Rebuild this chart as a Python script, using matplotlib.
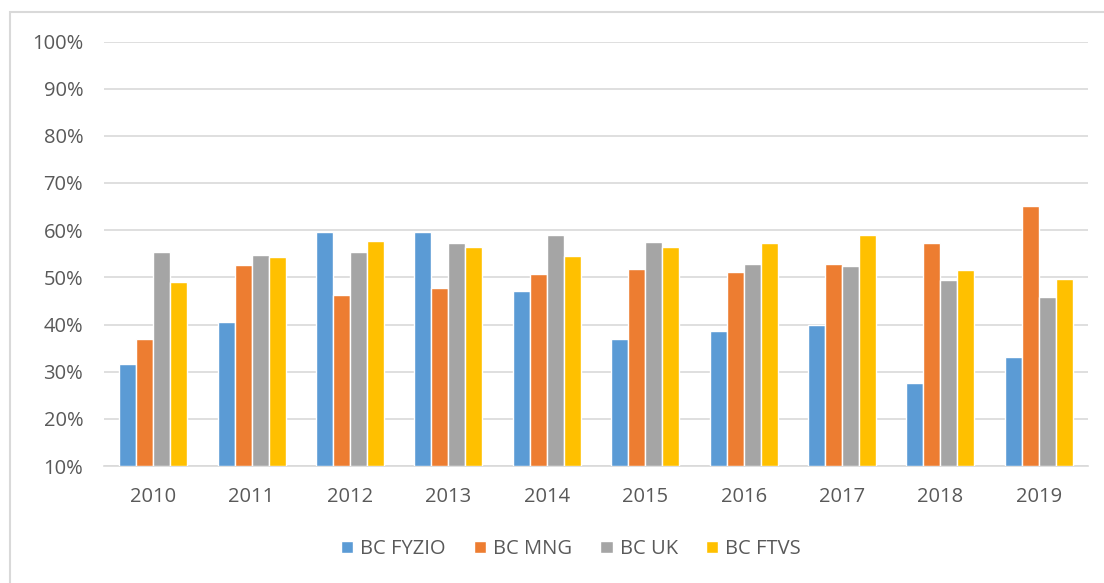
import matplotlib
matplotlib.use("Agg")
import matplotlib.pyplot as plt
import numpy as np
from matplotlib.patches import Rectangle

years = ["2010", "2011", "2012", "2013", "2014", "2015", "2016", "2017", "2018", "2019"]
series_names = ["BC FYZIO", "BC MNG", "BC UK", "BC FTVS"]
fyzio = [31.6, 40.6, 59.6, 59.6, 47.1, 37.0, 38.7, 40.0, 27.7, 33.1]
mng = [37.0, 52.6, 46.3, 47.7, 50.7, 51.8, 51.2, 52.9, 57.2, 65.1]
uk = [55.3, 54.8, 55.3, 57.2, 58.9, 57.5, 52.9, 52.3, 49.4, 45.8]
ftvs = [49.1, 54.3, 57.8, 56.4, 54.5, 56.4, 57.2, 58.9, 51.5, 49.6]
colors = ["#5B9BD5", "#ED7D31", "#A5A5A5", "#FFC000"]

plt.rcParams['font.family'] = ['Open Sans', 'DejaVu Sans']
fig = plt.figure(figsize=(11.04, 5.83), dpi=100)
W, H = 1104, 583
ax = fig.add_axes([104 / W, 1 - 466 / H, (1088 - 104) / W, (466 - 41.5) / H])

x = np.arange(len(years))
bw = 0.173
for i, (vals, c, name) in enumerate(zip([fyzio, mng, uk, ftvs], colors, series_names)):
    off = (i - 1.5) * bw
    ax.bar(x + off, np.array(vals) - 10, bottom=10, width=bw, color=c,
           edgecolor="white", linewidth=1.0, label=name, zorder=3)

ax.set_xlim(-0.5, len(years) - 0.5)
ax.set_ylim(10, 100)
ax.set_yticks(np.arange(10, 101, 10))
ax.set_yticklabels([f"{v}%" for v in range(10, 101, 10)])
ax.set_xticks(x)
ax.set_xticklabels(years)
ax.yaxis.grid(True, color="#D9D9D9", linewidth=1.2, zorder=0)
for s in ["top", "right", "left"]:
    ax.spines[s].set_visible(False)
ax.spines["bottom"].set_color("#D9D9D9")
ax.spines["bottom"].set_linewidth(1.2)
ax.tick_params(axis="both", length=0, labelsize=14.5, colors="#595959")
ax.tick_params(axis="y", pad=15)
ax.tick_params(axis="x", pad=15)

leg = fig.legend(loc="center", bbox_to_anchor=(571 / W, 1 - 549 / H), ncol=4,
                 frameon=False, fontsize=14.5, handlelength=0.6, handleheight=0.6,
                 columnspacing=1.4, handletextpad=0.35)
for t in leg.get_texts():
    t.set_color("#595959")

fig.patches.append(Rectangle((10 / W, -0.01), 1.2, 1 - 12 / H + 0.01, transform=fig.transFigure,
                             fill=False, edgecolor="#D9D9D9", linewidth=1.5))

fig.savefig("out.png", dpi=100)
